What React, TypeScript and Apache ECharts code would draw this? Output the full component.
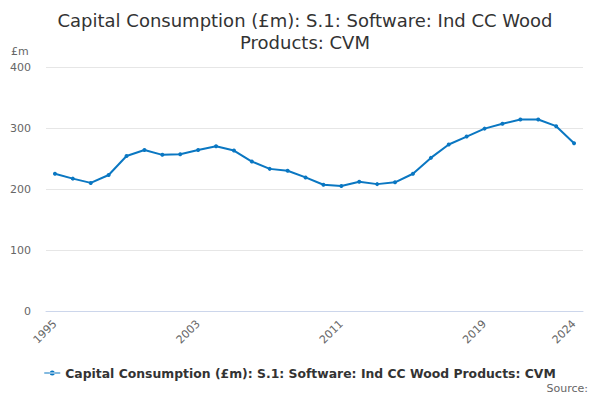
import React, { useEffect, useRef } from "react";
import * as echarts from "echarts";

const years: string[] = [
  "1995","1996","1997","1998","1999","2000","2001","2002","2003","2004",
  "2005","2006","2007","2008","2009","2010","2011","2012","2013","2014",
  "2015","2016","2017","2018","2019","2020","2021","2022","2023","2024",
];
const values: number[] = [
  225, 217, 210, 223, 254, 264, 256, 257, 264, 270,
  263, 245, 233, 230, 219, 207, 205, 212, 208, 211,
  225, 251, 273, 286, 299, 307, 314, 314, 303, 275,
];
const yTicks: number[] = [0, 100, 200, 300, 400];
const seriesName = "Capital Consumption (£m): S.1: Software: Ind CC Wood Products: CVM";
const titleText = "Capital Consumption (£m): S.1: Software: Ind CC Wood\nProducts: CVM";

export default function App() {
  const ref = useRef<HTMLDivElement>(null);
  useEffect(() => {
    if (!ref.current) return;
    const chart = echarts.init(ref.current, undefined, { renderer: "svg" });
    const last = years.length - 1;
    const font = "DejaVu Sans";
    chart.setOption({
      animation: false,
      textStyle: { fontFamily: font },
      title: {
        text: titleText,
        left: 300,
        top: 4,
        textAlign: "center",
        textStyle: { fontSize: 18, fontWeight: "normal", color: "#333333", lineHeight: 22, fontFamily: font },
      },
      grid: { left: 46, right: 17, top: 67, bottom: 89, containLabel: false },
      legend: {
        bottom: 16,
        left: "center",
        itemWidth: 16,
        itemHeight: 8,
        itemGap: 6,
        icon: "path://M0,3.5 L16,3.5 L16,4.5 L0,4.5 Z M5.5,4 A2.5,2.5 0 1 0 10.5,4 A2.5,2.5 0 1 0 5.5,4 Z",
        textStyle: { fontSize: 12.4, fontWeight: "bold", color: "#333333", fontFamily: font },
        data: [seriesName],
      },
      graphic: [
        {
          type: "text",
          right: 12,
          top: 383,
          style: { text: "Source:", fontSize: 11, fill: "#666666", fontFamily: font },
        },
        {
          type: "text",
          left: 11,
          top: 46,
          style: { text: "£m", fontSize: 11, fill: "#666666", fontFamily: font },
        },
      ],
      xAxis: {
        type: "category",
        data: years,
        boundaryGap: true,
        axisLine: { lineStyle: { color: "#ccd6eb" } },
        axisTick: {
          length: 9,
          alignWithLabel: true,
          lineStyle: { color: "#ccd6eb" },
          interval: (i: number) => i % 2 === 0 || i === last,
        },
        axisLabel: {
          rotate: 45,
          fontSize: 11,
          color: "#666666",
          fontFamily: font,
          margin: 11,
          interval: (i: number) => i % 8 === 0 || i === last,
        },
        splitLine: { show: false },
      },
      yAxis: {
        type: "value",
        min: yTicks[0],
        max: yTicks[yTicks.length - 1],
        interval: 100,
        axisLine: { show: false },
        axisTick: { show: false },
        axisLabel: { fontSize: 11, color: "#666666", fontFamily: font, margin: 15 },
        splitLine: { lineStyle: { color: "#e6e6e6" } },
      },
      series: [
        {
          name: seriesName,
          type: "line",
          data: values,
          symbol: "circle",
          symbolSize: 4,
          lineStyle: { color: "#0a77c2", width: 2 },
          itemStyle: { color: "#0a77c2" },
        },
      ],
    });
    return () => chart.dispose();
  }, []);
  return <div ref={ref} style={{ width: 600, height: 400, margin: -8 }} />;
}
